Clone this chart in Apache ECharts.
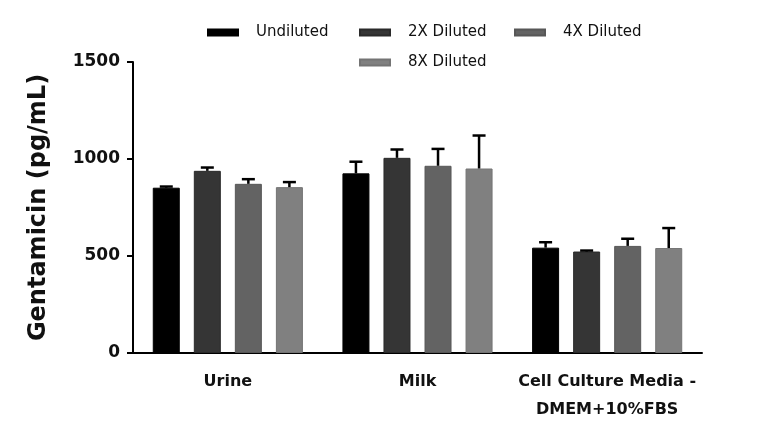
<!DOCTYPE html>
<html>
<head>
<meta charset="utf-8">
<script src="https://cdn.jsdelivr.net/npm/echarts@6/dist/echarts.min.js"></script>
<style>
  html, body { margin: 0; padding: 0; background: #fff; }
  #main { width: 768px; height: 438px; }
</style>
</head>
<body>
<div id="main"></div>
<script>
// sample types on the x axis
var categories = ['Urine', 'Milk', 'Cell Culture Media -\nDMEM+10%FBS'];
var seriesNames = ['Undiluted', '2X Diluted', '4X Diluted', '8X Diluted'];

// mean values (pg/mL) and upper error (SD) per dilution
var undilutedMean = [852, 926, 543];
var undilutedErr  = [6, 60, 28];
var x2Mean = [939, 1006, 523];
var x2Err  = [17, 43, 5];
var x4Mean = [872, 965, 552];
var x4Err  = [24, 87, 37];
var x8Mean = [855, 951, 541];
var x8Err  = [26, 170, 103];

var yTicks = [0, 500, 1000, 1500];

var means = [undilutedMean, x2Mean, x4Mean, x8Mean];
var errs = [undilutedErr, x2Err, x4Err, x8Err];
var colors = ['#000000', '#353535', '#636363', '#808080'];
var borders = ['#000000', '#2a2a2a', '#575757', '#747474'];

var BAR_W = 27;
var GAP_RATIO = 0.52;
var FONT = '"DejaVu Sans", sans-serif';

function errorRenderer(k) {
  return function (params, api) {
    var idx = api.value(0);
    var mean = api.value(1);
    var err = api.value(2);
    var base = api.coord([idx, mean]);
    var top = api.coord([idx, mean + err]);
    var x = base[0] + (k - 1.5) * BAR_W * (1 + GAP_RATIO);
    var st = { stroke: '#000', lineWidth: 2.5 };
    return {
      type: 'group',
      children: [
        { type: 'line', shape: { x1: x, y1: base[1], x2: x, y2: top[1] }, style: st },
        { type: 'line', shape: { x1: x - 6.5, y1: top[1], x2: x + 6.5, y2: top[1] }, style: st }
      ]
    };
  };
}

var series = [];
for (var k = 0; k < 4; k++) {
  series.push({
    name: seriesNames[k],
    type: 'bar',
    data: means[k],
    barWidth: BAR_W,
    barGap: (GAP_RATIO * 100) + '%',
    itemStyle: { color: colors[k], borderColor: borders[k], borderWidth: 1 },
    z: 2
  });
}
for (var k = 0; k < 4; k++) {
  var d = [];
  for (var i = 0; i < categories.length; i++) {
    d.push([i, means[k][i], errs[k][i]]);
  }
  series.push({
    name: seriesNames[k] + ' SD',
    type: 'custom',
    renderItem: errorRenderer(k),
    encode: { x: 0, y: 1 },
    data: d,
    z: 3,
    silent: true
  });
}

// one legend per entry, laid out like the original (3 on top, 1 below)
var legendPos = [[202, 20], [354, 20], [509, 20], [354, 50]];
var legends = seriesNames.map(function (n, i) {
  return {
    data: [n],
    left: legendPos[i][0],
    top: legendPos[i][1],
    icon: 'rect',
    itemWidth: 30,
    itemHeight: 6,
    padding: 5,
    textStyle: {
      fontFamily: FONT,
      fontSize: 15,
      color: '#111',
      padding: [0, 0, 0, 13]
    }
  };
});

var myChart = echarts.init(document.getElementById('main'));

var option = {
  backgroundColor: '#fff',
  animation: false,
  color: colors,
  legend: legends,
  grid: {
    left: 133,
    right: 66,
    top: 62,
    bottom: 85,
    containLabel: false,
    outerBoundsMode: 'none'
  },
  xAxis: {
    type: 'category',
    data: categories,
    axisLine: { lineStyle: { color: '#000', width: 2 } },
    axisTick: { alignWithLabel: true, length: 6, lineStyle: { color: '#000', width: 2 } },
    axisLabel: {
      interval: 0,
      margin: 15,
      fontFamily: FONT,
      fontWeight: 'bold',
      fontSize: 16,
      lineHeight: 28,
      color: '#111'
    },
    splitLine: { show: false }
  },
  yAxis: {
    type: 'value',
    min: yTicks[0],
    max: yTicks[yTicks.length - 1],
    interval: 500,
    name: 'Gentamicin (pg/mL)',
    nameLocation: 'middle',
    nameGap: 82,
    nameTextStyle: {
      fontFamily: FONT,
      fontWeight: 'bold',
      fontSize: 24,
      color: '#111'
    },
    axisLine: { show: true, lineStyle: { color: '#000', width: 2 } },
    axisTick: { show: true, length: 6, lineStyle: { color: '#000', width: 2 } },
    axisLabel: {
      margin: 13,
      fontFamily: FONT,
      fontWeight: 'bold',
      fontSize: 17,
      color: '#111',
      formatter: function (v) { return String(v); }
    },
    splitLine: { show: false }
  },
  series: series
};

myChart.setOption(option);
</script>
</body>
</html>
